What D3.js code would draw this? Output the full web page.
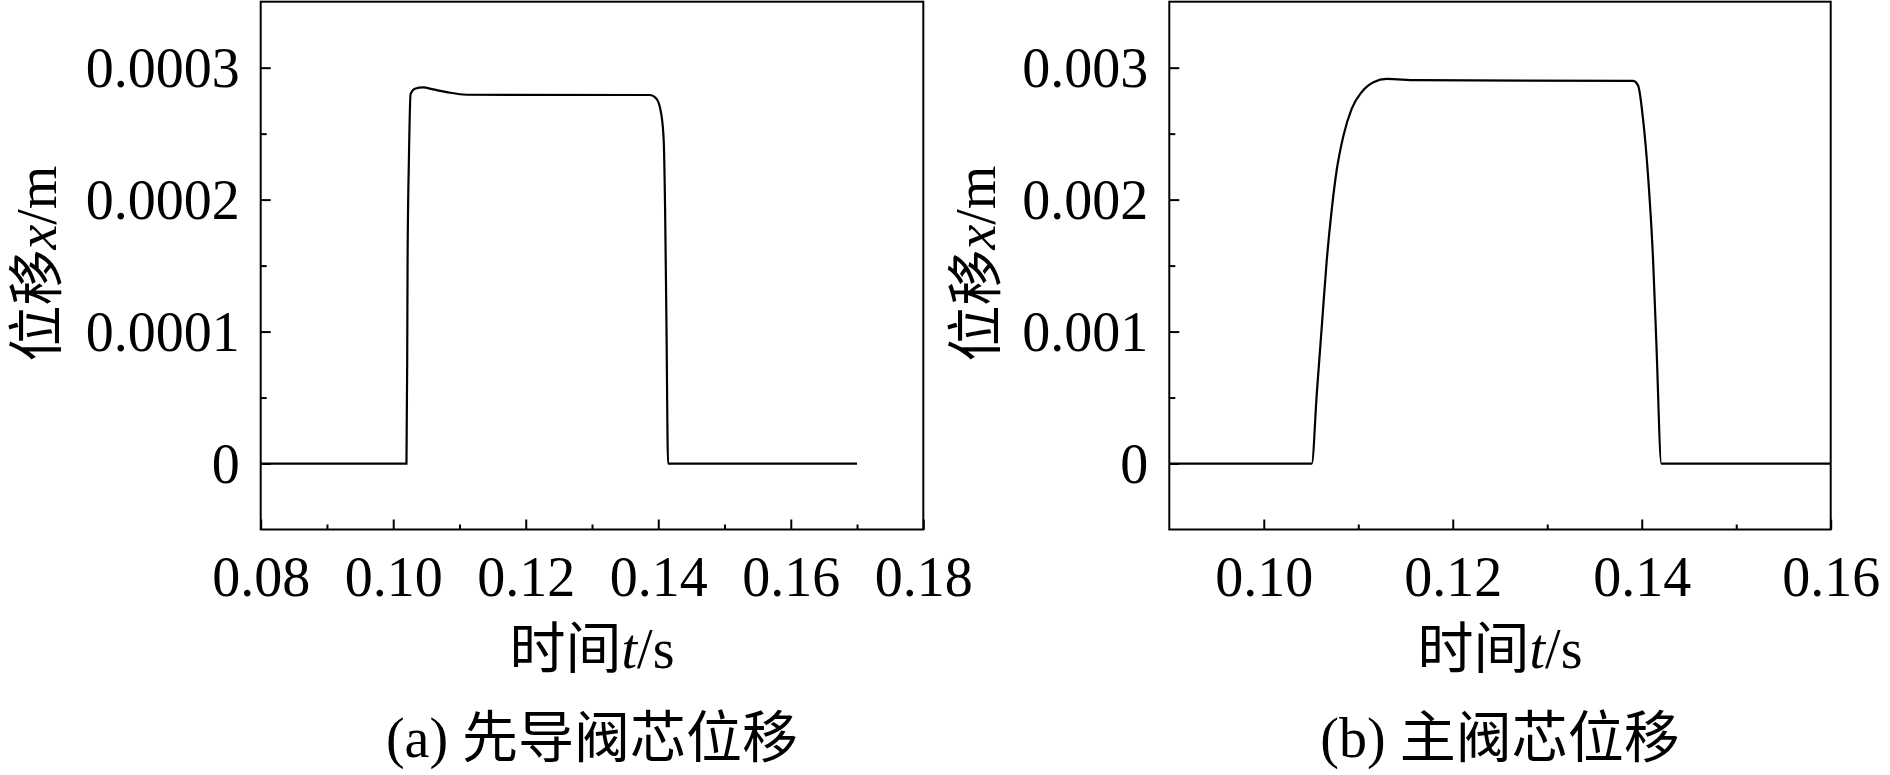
<!DOCTYPE html>
<html>
<head>
<meta charset="utf-8">
<script src="https://cdn.jsdelivr.net/npm/d3@7"></script>
<style>
  body { margin: 0; background: #fff; }
  text { font-family: "Liberation Serif", "Times New Roman", "Noto Sans CJK SC", serif; fill: #000; }
</style>
</head>
<body>
<svg width="1890" height="775"></svg>
<script>
// pilot spool displacement (a)
var timeA = [0.08, 0.1020, 0.10211, 0.10217, 0.10237, 0.10262, 0.10327, 0.10452, 0.10603, 0.10805, 0.11107,
             0.13872, 0.13973, 0.14048, 0.14083, 0.14103, 0.14124, 0.14148, 0.17];
var dispA = [0, 0, 7.8e-5, 1.55e-4, 2.31e-4, 2.80e-4, 2.84e-4, 2.85e-4, 2.835e-4, 2.815e-4, 2.795e-4,
             2.793e-4, 2.765e-4, 2.64e-4, 2.44e-4, 1.93e-4, 1.04e-4, 0, 0];

// main spool displacement (b)
var timeB = [0.09, 0.10508, 0.10561, 0.10614, 0.10667, 0.1072, 0.10773, 0.10843, 0.10931, 0.11037, 0.1116,
             0.11301, 0.11618, 0.13908, 0.13961, 0.14014, 0.14067, 0.1412, 0.14155, 0.14208, 0.16];
var dispB = [0, 0, 5.3e-4, 1.04e-3, 1.546e-3, 1.93e-3, 2.23e-3, 2.485e-3, 2.69e-3, 2.816e-3, 2.89e-3,
             2.915e-3, 2.905e-3, 2.90e-3, 2.866e-3, 2.61e-3, 2.18e-3, 1.546e-3, 9.1e-4, 0, 0];

// ticks
var xTicksA = [0.08, 0.10, 0.12, 0.14, 0.16, 0.18];
var xLabelsA = ["0.08", "0.10", "0.12", "0.14", "0.16", "0.18"];
var xMinorA = [0.09, 0.11, 0.13, 0.15, 0.17];
var yTicksA = [0, 0.0001, 0.0002, 0.0003];
var yLabelsA = ["0", "0.0001", "0.0002", "0.0003"];
var yMinorA = [0.00005, 0.00015, 0.00025];

var xTicksB = [0.10, 0.12, 0.14, 0.16];
var xLabelsB = ["0.10", "0.12", "0.14", "0.16"];
var xMinorB = [0.11, 0.13, 0.15];
var yTicksB = [0, 0.001, 0.002, 0.003];
var yLabelsB = ["0", "0.001", "0.002", "0.003"];
var yMinorB = [0.0005, 0.0015, 0.0025];

var svg = d3.select("svg");
var fs = 56;

function drawPanel(p) {
    var x = d3.scaleLinear().domain(p.xDomain).range([p.left, p.right]);
    var y = d3.scaleLinear().domain(p.yDomain).range([p.bottom, p.top]);
    var g = svg.append("g");

    // bottom axis, ticks pointing inward
    var xa = g.append("g").attr("transform", "translate(0," + p.bottom + ")")
        .call(d3.axisBottom(x).tickValues(p.xTicks).tickSize(-10).tickSizeOuter(0)
              .tickFormat(function(d, i) { return p.xLabels[i]; }));
    xa.append("g").call(d3.axisBottom(x).tickValues(p.xMinor).tickSize(-5).tickSizeOuter(0).tickFormat(""));
    xa.selectAll(".domain").remove();
    xa.selectAll("line").attr("stroke", "#000").attr("stroke-width", 2);
    xa.selectAll("text").attr("y", 66).attr("dy", null)
        .style("font-size", fs + "px").style("font-family", null);

    // left axis
    var ya = g.append("g").attr("transform", "translate(" + p.left + ",0)")
        .call(d3.axisLeft(y).tickValues(p.yTicks).tickSize(-10).tickSizeOuter(0)
              .tickFormat(function(d, i) { return p.yLabels[i]; }));
    ya.append("g").call(d3.axisLeft(y).tickValues(p.yMinor).tickSize(-6).tickSizeOuter(0).tickFormat(""));
    ya.selectAll(".domain").remove();
    ya.selectAll("line").attr("stroke", "#000").attr("stroke-width", 2);
    ya.selectAll("text").attr("x", -21).attr("dy", "0.34em")
        .style("font-size", fs + "px").style("font-family", null);

    // frame
    g.append("rect")
        .attr("x", p.left).attr("y", p.top)
        .attr("width", p.right - p.left).attr("height", p.bottom - p.top)
        .attr("fill", "none").attr("stroke", "#000").attr("stroke-width", 2);

    // curve
    var line = d3.line()
        .x(function(d) { return x(d[0]); })
        .y(function(d) { return y(d[1]); })
        .curve(d3.curveMonotoneX);
    g.append("path")
        .datum(d3.zip(p.t, p.v))
        .attr("d", line)
        .attr("fill", "none")
        .attr("stroke", "#000")
        .attr("stroke-width", 2.2);

    // y title
    var yt = g.append("text")
        .attr("transform", "translate(" + p.yTitleX + "," + ((p.top + p.bottom) / 2 - 2) + ") rotate(-90)")
        .attr("text-anchor", "middle").attr("dy", "0.36em")
        .style("font-size", fs + "px");
    yt.append("tspan").text("位移");
    yt.append("tspan").style("font-style", "italic").text("x");
    yt.append("tspan").text("/m");

    // x title
    var cx = (p.left + p.right) / 2;
    var xt = g.append("text").attr("x", cx).attr("y", 668)
        .attr("text-anchor", "middle").style("font-size", fs + "px");
    xt.append("tspan").text("时间");
    xt.append("tspan").style("font-style", "italic").text("t");
    xt.append("tspan").text("/s");

    // caption
    g.append("text").attr("x", cx).attr("y", 757)
        .attr("text-anchor", "middle").style("font-size", fs + "px")
        .text(p.caption);
}

drawPanel({
    left: 260.7, right: 923.3, top: 1.7, bottom: 529.5,
    xDomain: [0.08, 0.18], yDomain: [-0.00005, 0.00035],
    xTicks: xTicksA, xLabels: xLabelsA, xMinor: xMinorA,
    yTicks: yTicksA, yLabels: yLabelsA, yMinor: yMinorA,
    t: timeA, v: dispA, yTitleX: 36, caption: "(a) 先导阀芯位移"
});

drawPanel({
    left: 1169.3, right: 1830.7, top: 1.7, bottom: 529.5,
    xDomain: [0.09, 0.16], yDomain: [-0.0005, 0.0035],
    xTicks: xTicksB, xLabels: xLabelsB, xMinor: xMinorB,
    yTicks: yTicksB, yLabels: yLabelsB, yMinor: yMinorB,
    t: timeB, v: dispB, yTitleX: 975, caption: "(b) 主阀芯位移"
});
</script>
</body>
</html>
